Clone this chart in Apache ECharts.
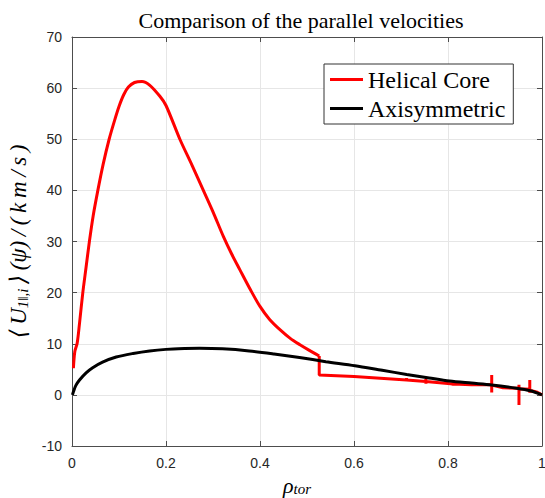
<!DOCTYPE html>
<html>
<head>
<meta charset="utf-8">
<script src="https://cdn.jsdelivr.net/npm/echarts@6/dist/echarts.min.js"></script>
<style>
  html, body { margin: 0; padding: 0; background: #fff; }
  #chart { width: 545px; height: 498px; }
</style>
</head>
<body>
<div id="chart"></div>
<script>
// Helical core (red), smooth part up to the jump at rho ~ 0.526
var helicalCoreInner = [
  [0.003, 5.2], [0.006, 8.5], [0.011, 10.1], [0.016, 14], [0.023, 20], [0.03, 25],
  [0.037, 30], [0.045, 35], [0.055, 40], [0.066, 45], [0.079, 50], [0.09, 53.5],
  [0.1, 56.4], [0.11, 58.7], [0.12, 60.2], [0.133, 61.1], [0.149, 61.3], [0.165, 60.6],
  [0.187, 58.4], [0.2, 56.6], [0.23, 49.9], [0.255, 45], [0.279, 40.1], [0.3, 35.8],
  [0.322, 31], [0.34, 27.5], [0.357, 24.5], [0.38, 20.5], [0.4, 17.3], [0.42, 14.8],
  [0.443, 12.7], [0.465, 11], [0.485, 9.8], [0.505, 8.7], [0.526, 7.6]
];
// Helical core (red), outer part with the jump and the spikes
var helicalCoreOuter = [
  [0.526, 7.6], [0.526, 3.9], [0.6, 3.6], [0.712, 2.9],
  [0.712, 3.3], [0.712, 2.7], [0.712, 2.9], [0.753, 2.6], [0.753, 3.1], [0.753, 2.2],
  [0.753, 2.6], [0.811, 2.15], [0.811, 2.6], [0.811, 1.8], [0.811, 2.15], [0.85, 2.0],
  [0.893, 1.96], [0.893, 3.9], [0.893, 0.45], [0.893, 1.9], [0.917, 1.4], [0.947, 1.3],
  [0.951, 1.3], [0.951, 2.0], [0.951, -2.0], [0.951, 1.2], [0.974, 1.1], [0.974, 2.9],
  [0.974, 0.4], [0.974, 0.9], [0.99, 0.5], [1.0, 0]
];
// Axisymmetric (black)
var axisymmetric = [
  [0.001, 0], [0.003, 0.6], [0.008, 1.8], [0.016, 2.9], [0.03, 4.3], [0.044, 5.3],
  [0.065, 6.4], [0.094, 7.4], [0.13, 8.1], [0.165, 8.6], [0.2, 8.9], [0.24, 9.05],
  [0.271, 9.1], [0.32, 9.0], [0.377, 8.6], [0.43, 8.0], [0.484, 7.3], [0.54, 6.5],
  [0.602, 5.7], [0.66, 4.8], [0.712, 4.0], [0.76, 3.3], [0.803, 2.7], [0.85, 2.3],
  [0.893, 1.95], [0.946, 1.3], [0.975, 0.8], [1.0, 0]
];
var seriesNames = ['Helical Core', 'Axisymmetric'];
var titleText = 'Comparison of the parallel velocities';

var axisCol = '#4d4d4d';
var gridCol = '#e6e6e6';
var tickFont = { color: '#262626', fontSize: 14, fontFamily: 'Liberation Sans, Arial, sans-serif' };
var serif = 'Liberation Serif, DejaVu Serif, serif';
var sp = '\u2009';

var chart = echarts.init(document.getElementById('chart'), null, { renderer: 'svg' });
chart.setOption({
  animation: false,
  title: {
    text: titleText,
    left: 296, top: 4, textAlign: 'center',
    textStyle: { fontFamily: serif, fontWeight: 'normal', fontSize: 22, color: '#000' }
  },
  grid: { left: 72, right: 3, top: 37, bottom: 52, outerBoundsMode: 'none' },
  legend: {
    data: seriesNames,
    orient: 'vertical',
    left: 324, top: 64,
    padding: [3, 8, 3, 6],
    itemGap: 4,
    itemWidth: 33, itemHeight: 3,
    icon: 'rect',
    borderColor: '#333', borderWidth: 1, backgroundColor: '#fff',
    textStyle: { fontFamily: serif, fontSize: 24, color: '#000', lineHeight: 25 }
  },
  xAxis: [{
    type: 'value', min: 0, max: 1, interval: 0.2,
    name: '{i|ρ}{s|tor}', nameLocation: 'middle', nameGap: 24,
    nameTextStyle: { padding: [0, 20, 0, 0], rich: {
      i: { fontFamily: serif, fontStyle: 'italic', fontSize: 22, color: '#000' },
      s: { fontFamily: serif, fontStyle: 'italic', fontSize: 15, color: '#000', verticalAlign: 'bottom', padding: [6, 0, 0, 0] }
    } },
    axisLine: { onZero: false, lineStyle: { color: axisCol } },
    axisTick: { inside: true, length: 5, lineStyle: { color: axisCol } },
    axisLabel: Object.assign({ margin: 10 }, tickFont),
    splitLine: { show: true, lineStyle: { color: gridCol } }
  }, {
    type: 'value', min: 0, max: 1, interval: 0.2, position: 'top',
    axisLine: { onZero: false, lineStyle: { color: axisCol } },
    axisTick: { inside: true, length: 5, lineStyle: { color: axisCol } },
    axisLabel: { show: false }, splitLine: { show: false }
  }],
  yAxis: [{
    type: 'value', min: -10, max: 70, interval: 10,
    name: '{i|⟨' + sp + 'U}{s|1‖,i}{i|' + sp + '⟩' + sp + '(ψ)' + sp + '/' + sp + '(' + sp + 'k' + sp + 'm' + sp + '/' + sp + 's' + sp + ')}',
    nameLocation: 'middle', nameGap: 40, nameRotate: 90,
    nameTextStyle: { rich: {
      i: { fontFamily: serif, fontStyle: 'italic', fontSize: 23, color: '#000' },
      s: { fontFamily: serif, fontStyle: 'italic', fontSize: 15, color: '#000', verticalAlign: 'bottom', padding: [9, 0, 0, 0] }
    } },
    axisLine: { show: true, onZero: false, lineStyle: { color: axisCol } },
    axisTick: { show: true, inside: true, length: 5, lineStyle: { color: axisCol } },
    axisLabel: Object.assign({ margin: 10 }, tickFont),
    splitLine: { show: true, lineStyle: { color: gridCol } }
  }, {
    type: 'value', min: -10, max: 70, interval: 10, position: 'right',
    axisLine: { show: true, onZero: false, lineStyle: { color: axisCol } },
    axisTick: { show: true, inside: true, length: 5, lineStyle: { color: axisCol } },
    axisLabel: { show: false }, splitLine: { show: false }
  }],
  series: [{
    name: seriesNames[0], type: 'line', data: helicalCoreInner,
    showSymbol: false, symbol: 'none', smooth: 0.3,
    lineStyle: { color: '#ff0000', width: 3 }, itemStyle: { color: '#ff0000' }
  }, {
    name: seriesNames[0], type: 'line', data: helicalCoreOuter,
    showSymbol: false, symbol: 'none',
    lineStyle: { color: '#ff0000', width: 3 }, itemStyle: { color: '#ff0000' }
  }, {
    name: seriesNames[1], type: 'line', data: axisymmetric,
    showSymbol: false, symbol: 'none', smooth: 0.3,
    lineStyle: { color: '#000', width: 3 }, itemStyle: { color: '#000' }
  }]
});
</script>
</body>
</html>
